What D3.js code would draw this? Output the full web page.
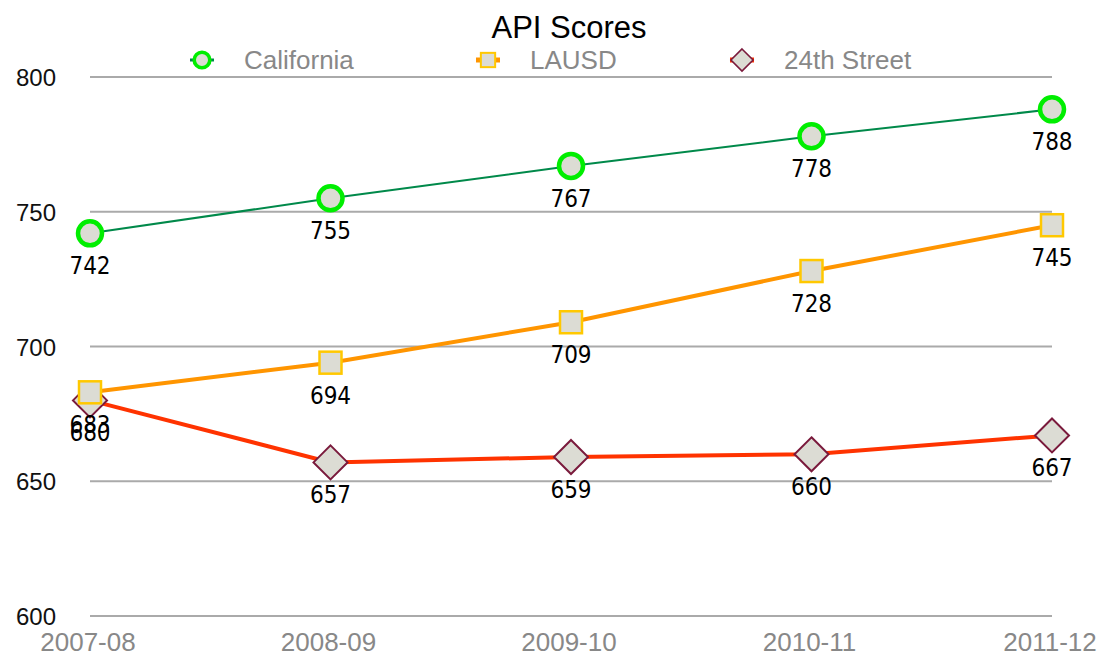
<!DOCTYPE html>
<html>
<head>
<meta charset="utf-8">
<script src="https://cdn.jsdelivr.net/npm/d3@7"></script>
<style>
  body { margin: 0; background: #fff; }
  svg { display: block; }
  text { font-family: "Liberation Sans", Arial, sans-serif; }
  .val { font-family: "DejaVu Sans Condensed", "DejaVu Sans", sans-serif; }
</style>
</head>
<body>
<div id="container"></div>
<script>
var WIDTH = 1117, HEIGHT = 658;

var YEARS = ["2007-08", "2008-09", "2009-10", "2010-11", "2011-12"];
var CALIFORNIA = [742, 755, 767, 778, 788];
var LAUSD = [683, 694, 709, 728, 745];
var STREET24 = [680, 657, 659, 660, 667];
var Y_TICKS = [600, 650, 700, 750, 800];

var series = [
  { name: "California", values: CALIFORNIA, line: "#00894a", lw: 2, marker: "circle", stroke: "#00ee00", sw: 4.5, lx: 202 },
  { name: "LAUSD", values: LAUSD, line: "#ff9500", lw: 4, marker: "square", stroke: "#ffc800", sw: 2.5, lx: 488 },
  { name: "24th Street", values: STREET24, line: "#ff3300", lw: 4, marker: "diamond", stroke: "#7a1a3c", sw: 2, lx: 742 }
];

var x = d3.scalePoint().domain(YEARS).range([90, 1052]);
var y = d3.scaleLinear().domain([600, 800]).range([616, 77]);

var svg = d3.select("#container").append("svg")
  .attr("width", WIDTH).attr("height", HEIGHT);

// grid
svg.append("g").selectAll("line")
  .data(Y_TICKS).enter().append("line")
  .attr("x1", 90).attr("x2", 1052)
  .attr("y1", function(d){ return y(d); })
  .attr("y2", function(d){ return y(d); })
  .attr("stroke", "#aaaaaa").attr("stroke-width", 2);

svg.append("g").selectAll("text")
  .data(Y_TICKS).enter().append("text")
  .attr("x", 56).attr("y", function(d){ return y(d) + 9; })
  .attr("text-anchor", "end")
  .attr("font-size", 24).attr("fill", "#111")
  .text(function(d){ return d; });

svg.append("g").selectAll("text")
  .data(YEARS).enter().append("text")
  .attr("x", function(d){ return x(d) - 2; })
  .attr("y", 651)
  .attr("text-anchor", "middle")
  .attr("font-size", 26).attr("fill", "#888")
  .text(function(d){ return d; });

svg.append("text")
  .attr("x", 569).attr("y", 38)
  .attr("text-anchor", "middle")
  .attr("font-size", 31).attr("fill", "#000")
  .text("API Scores");

var drawMarker = function(g, s, cx, cy, scale)
{
  var m;
  if (s.marker === "circle")
    m = g.append("circle").attr("cx", cx).attr("cy", cy).attr("r", 12 * scale);
  else if (s.marker === "square")
    m = g.append("rect").attr("x", cx - 11 * scale).attr("y", cy - 11 * scale)
      .attr("width", 22 * scale).attr("height", 22 * scale);
  else {
    var r = 17 * scale;
    m = g.append("path").attr("d", "M" + cx + "," + (cy - r) + "L" + (cx + r) + "," + cy +
      "L" + cx + "," + (cy + r) + "L" + (cx - r) + "," + cy + "Z");
  }
  m.attr("fill", "#dcdcd4").attr("stroke", s.stroke).attr("stroke-width", s.sw * Math.max(scale, 0.8));
};

var line = d3.line()
  .x(function(d, i){ return x(YEARS[i]); })
  .y(function(d){ return y(d); });

// later series drawn first so California / LAUSD sit on top
series.slice().reverse().forEach(function(s){
  var g = svg.append("g");
  g.append("path").datum(s.values)
    .attr("d", line)
    .attr("fill", "none")
    .attr("stroke", s.line)
    .attr("stroke-width", s.lw);
  s.values.forEach(function(v, i){
    drawMarker(g, s, x(YEARS[i]), y(v), 1);
  });
});

series.forEach(function(s){
  svg.append("g").selectAll("text")
    .data(s.values).enter().append("text")
    .attr("class", "val")
    .attr("x", function(d, i){ return x(YEARS[i]); })
    .attr("y", function(d){ return y(d) + 41; })
    .attr("text-anchor", "middle")
    .attr("font-size", 24).attr("fill", "#000")
    .text(function(d){ return d; });
});

// legend
series.forEach(function(s){
  var lg = svg.append("g");
  lg.append("line")
    .attr("x1", s.lx - 12).attr("x2", s.lx + 12)
    .attr("y1", 60).attr("y2", 60)
    .attr("stroke", s.line).attr("stroke-width", s.lw + 1);
  drawMarker(lg, s, s.lx, 60, 0.65);
  lg.append("text")
    .attr("x", s.lx + 42).attr("y", 69)
    .attr("font-size", 26).attr("fill", "#888")
    .text(s.name);
});
</script>
</body>
</html>
